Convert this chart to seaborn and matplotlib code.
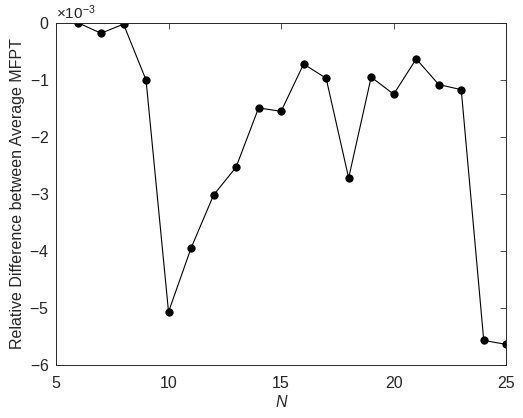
import numpy as np
import pandas as pd
import matplotlib
matplotlib.use("Agg")
import matplotlib.pyplot as plt
import seaborn as sns
from matplotlib.ticker import ScalarFormatter

# data (relative difference, in units of 1e-3)
n_values = [6, 7, 8, 9, 10, 11, 12, 13, 14, 15, 16, 17, 18, 19, 20, 21, 22, 23, 24, 25]
rel_diff_e3 = [0.0, -0.18, -0.02, -1.0, -5.07, -3.95, -3.02, -2.53, -1.49, -1.55,
               -0.72, -0.97, -2.72, -0.95, -1.25, -0.63, -1.08, -1.17, -5.57, -5.64]

df = pd.DataFrame({"N": n_values, "diff": np.array(rel_diff_e3) * 1e-3})

sns.set_style("white")
plt.rcParams['font.family'] = ['Liberation Sans', 'DejaVu Sans']
plt.rcParams['axes.unicode_minus'] = False
plt.rcParams['mathtext.fontset'] = 'custom'
plt.rcParams['mathtext.rm'] = 'Liberation Sans'

fig, ax = plt.subplots(figsize=(5.23, 4.18), dpi=100)
fig.subplots_adjust(left=0.107, right=0.968, top=0.945, bottom=0.127)

sns.lineplot(data=df, x="N", y="diff", ax=ax, color="black", linewidth=0.8,
             marker="o", markersize=5.2, markeredgecolor="black")

ax.set_xlim(5, 25)
ax.set_ylim(-6e-3, 0)
ax.set_xticks([5, 10, 15, 20, 25])
ax.set_yticks(np.arange(-6, 1) * 1e-3)

fmt = ScalarFormatter(useMathText=True)
fmt.set_powerlimits((-2, 2))
ax.yaxis.set_major_formatter(fmt)
ax.yaxis.get_offset_text().set_fontsize(11)

ax.tick_params(direction="in", top=True, right=True, labelsize=11.5, length=4,
               width=0.6, color="#333333")
ax.tick_params(axis="y", pad=5)
ax.tick_params(axis="x", pad=8)
for sp in ax.spines.values():
    sp.set_linewidth(0.7)
    sp.set_color("#262626")

ax.set_xlabel("N", fontsize=11.5, style="italic", labelpad=3)
ax.set_ylabel("Relative Difference between Average MFPT", fontsize=11.5, labelpad=3)

fig.savefig("out.png", dpi=100)
